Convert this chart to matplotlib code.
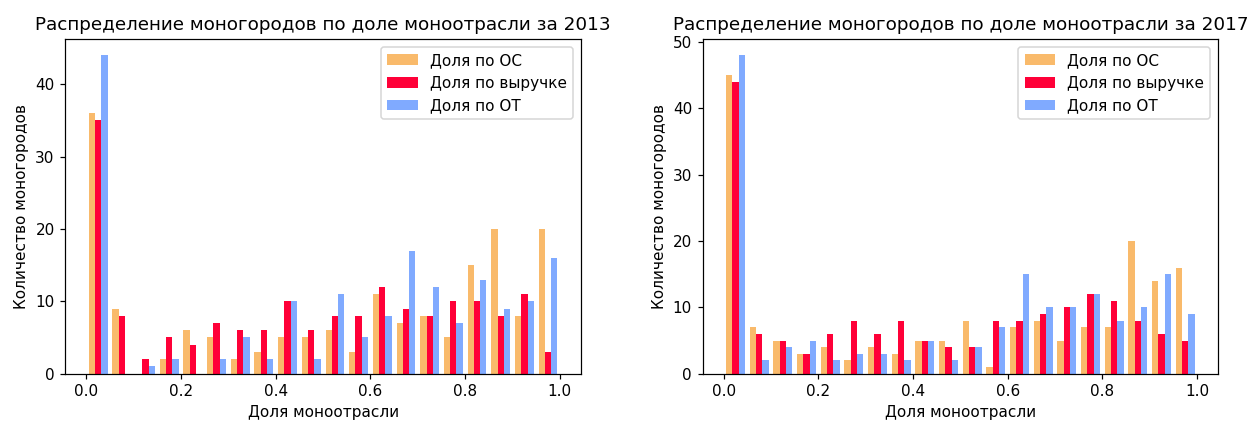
import numpy as np
import matplotlib.pyplot as plt

# счетчики моногородов по 20 интервалам доли моноотрасли (0..1, шаг 0.05)
os_2013 = [36, 9, 0, 2, 6, 5, 2, 3, 5, 5, 6, 3, 11, 7, 8, 5, 15, 20, 8, 20]
rev_2013 = [35, 8, 2, 5, 4, 7, 6, 6, 10, 6, 8, 8, 12, 9, 8, 10, 10, 8, 11, 3]
ot_2013 = [44, 0, 1, 2, 0, 2, 5, 2, 10, 2, 11, 5, 8, 17, 12, 7, 13, 9, 10, 16]

os_2017 = [45, 7, 5, 3, 4, 2, 4, 3, 5, 5, 8, 1, 7, 8, 5, 7, 7, 20, 14, 16]
rev_2017 = [44, 6, 5, 3, 6, 8, 6, 8, 5, 4, 4, 8, 8, 9, 10, 12, 11, 8, 6, 5]
ot_2017 = [48, 2, 4, 5, 2, 3, 3, 2, 5, 2, 4, 7, 15, 10, 10, 12, 8, 10, 15, 9]

labels = ['Доля по ОС', 'Доля по выручке', 'Доля по ОТ']
colors = ['#f9ba6b', '#ff0038', '#80aaff']
years = [2013, 2017]

bins = np.linspace(0, 1, 21)
centers = (bins[:-1] + bins[1:]) / 2

dpi = 110
fig = plt.figure(figsize=(1252 / dpi, 423 / dpi), dpi=dpi)
ax1 = fig.add_axes([0.0522, 0.1166, 0.4118, 0.7904])
ax2 = fig.add_axes([0.5613, 0.1166, 0.4116, 0.7904])

data = [(os_2013, rev_2013, ot_2013), (os_2017, rev_2017, ot_2017)]
for ax, year, counts in zip([ax1, ax2], years, data):
    ax.hist([centers] * 3, bins=bins, weights=list(counts),
            color=colors, label=labels)
    ax.set_title('Распределение моногородов по доле моноотрасли за %d' % year,
                 fontsize=12)
    ax.set_xlabel('Доля моноотрасли', fontsize=10)
    ax.set_ylabel('Количество моногородов', fontsize=10)
    ax.tick_params(labelsize=10)
    ax.legend(fontsize=10)

fig.savefig('out.png', dpi=dpi)
